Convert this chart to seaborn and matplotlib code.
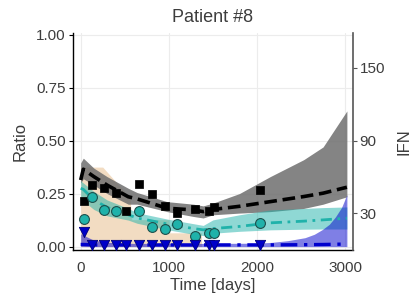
import numpy as np
import pandas as pd
import matplotlib
matplotlib.use("Agg")
import matplotlib.pyplot as plt
import seaborn as sns

# ==================================================
# DATA
# ==================================================

obs_days = [41, 132, 261, 401, 518, 662, 813, 957, 1096, 1301, 1453, 1516, 2035]
ratio_black = [0.216, 0.291, 0.278, 0.253, 0.170, 0.296, 0.250, 0.193, 0.158,
               0.179, 0.168, 0.186, 0.269]
teal_days = [41, 132, 261, 401, 662, 813, 957, 1096, 1301, 1453, 1516, 2035]
ratio_teal = [0.129, 0.234, 0.173, 0.168, 0.168, 0.092, 0.082, 0.108, 0.050,
              0.063, 0.065, 0.110]
ratio_blue = [0.071, 0.008, 0.008, 0.008, 0.008, 0.008, 0.008, 0.008, 0.008,
              0.008, 0.008, 0.008, 0.008]

# model curves
fit_days = [0, 30, 150, 300, 540, 640, 980, 1280, 1390, 1500, 1800, 2150, 2530, 2750, 3020]
fit_black = [0.314, 0.365, 0.33, 0.29, 0.235, 0.225, 0.181, 0.173, 0.165, 0.175,
             0.19, 0.212, 0.236, 0.252, 0.28]
black_lo = [0.30, 0.32, 0.29, 0.25, 0.20, 0.20, 0.165, 0.142, 0.135, 0.15,
            0.158, 0.165, 0.18, 0.20, 0.235]
black_hi = [0.395, 0.417, 0.37, 0.33, 0.275, 0.255, 0.212, 0.20, 0.192, 0.205,
            0.25, 0.33, 0.41, 0.47, 0.64]
fit_teal = [0.275, 0.27, 0.22, 0.185, 0.15, 0.135, 0.107, 0.085, 0.079, 0.085,
            0.095, 0.112, 0.12, 0.126, 0.134]
teal_lo = [0.22, 0.215, 0.175, 0.145, 0.125, 0.11, 0.08, 0.058, 0.052, 0.063,
           0.072, 0.079, 0.082, 0.083, 0.083]
teal_hi = [0.31, 0.30, 0.26, 0.22, 0.18, 0.16, 0.13, 0.108, 0.10, 0.126,
           0.15, 0.173, 0.18, 0.184, 0.187]
fit_blue = [0.01, 0.01, 0.008, 0.008, 0.008, 0.008, 0.008, 0.008, 0.008, 0.008,
            0.008, 0.008, 0.009, 0.01, 0.012]

blue_days = [0, 150, 300, 600, 1500, 2000, 2170, 2350, 2545, 2650, 2740, 2820, 2890, 2960, 3020]
blue_hi = [0.06, 0.03, 0.02, 0.015, 0.015, 0.016, 0.02, 0.028, 0.042, 0.058,
           0.08, 0.105, 0.14, 0.185, 0.245]

# empirical range (beige)
beige_days = [0, 250, 560, 580, 1000, 1010, 1370]
beige_hi = [0.375, 0.375, 0.23, 0.127, 0.127, 0.065, 0.065]

ifn_ticks = [30, 90, 150]

# ==================================================
# STYLE
# ==================================================

sns.set_theme(style="whitegrid")
plt.rcParams["font.family"] = ["Liberation Sans", "DejaVu Sans"]
txt = "#3d3d3d"
plt.rcParams.update({
    "text.color": txt, "axes.labelcolor": txt,
    "xtick.color": txt, "ytick.color": txt,
    "grid.color": "#ececec", "grid.linewidth": 0.8,
})

fig = plt.figure(figsize=(4.2, 3.0), dpi=100)
ax = fig.add_axes([0.173, 0.167, 0.667, 0.724])

# ==================================================
# BANDS
# ==================================================

ax.fill_between(beige_days, 0, beige_hi, color="#f2dcc2", lw=0, zorder=1)
ax.fill_between(fit_days, black_lo, black_hi, color="#6e6e6e", alpha=0.85, lw=0, zorder=2)
ax.fill_between(fit_days, teal_lo, teal_hi, color="#20b2aa", alpha=0.5, lw=0, zorder=3)
ax.fill_between(blue_days, 0, blue_hi, color="#0000cd", alpha=0.5, lw=0, zorder=4)

# ==================================================
# MODEL LINES
# ==================================================

fits = pd.DataFrame({"day": fit_days, "black": fit_black,
                     "teal": fit_teal, "blue": fit_blue})

sns.lineplot(data=fits, x="day", y="black", ax=ax, color="black", lw=2.6, zorder=5)
ax.lines[-1].set_linestyle((0, (3.5, 1.6)))
sns.lineplot(data=fits, x="day", y="teal", ax=ax, color="#20b2aa", lw=2.0, zorder=5)
ax.lines[-1].set_linestyle((0, (4, 2, 1, 2)))
sns.lineplot(data=fits, x="day", y="blue", ax=ax, color="#0000cd", lw=2.4, zorder=5)
ax.lines[-1].set_linestyle((0, (5, 2, 1, 2)))

# ==================================================
# OBSERVATIONS
# ==================================================

sns.scatterplot(x=obs_days, y=ratio_black, ax=ax, marker="s", s=40,
                color="black", edgecolor="black", zorder=6)
sns.scatterplot(x=teal_days, y=ratio_teal, ax=ax, marker="o", s=50,
                color="#20b2aa", edgecolor="#1d4f4c", linewidth=0.8, zorder=6)
sns.scatterplot(x=obs_days, y=ratio_blue, ax=ax, marker="v", s=55,
                color="#0000c8", edgecolor="#00007a", linewidth=0.6, zorder=6)

# ==================================================
# AXES
# ==================================================

ax.set_xlim(-91, 3087)
ax.set_ylim(-0.0156, 1.009)
ax.set_xticks([0, 1000, 2000, 3000])
ax.set_yticks([0, 0.25, 0.5, 0.75, 1.0])
ax.set_yticklabels(["0.00", "0.25", "0.50", "0.75", "1.00"])
ax.tick_params(axis="both", labelsize=11, pad=2)
ax.tick_params(axis="y", left=True, length=3, width=0.8, color="black")
ax.tick_params(axis="x", bottom=False)
ax.set_xlabel("Time [days]", fontsize=12, labelpad=2)
ax.set_ylabel("Ratio", fontsize=12, labelpad=6)
ax.set_title("Patient #8", fontsize=13, pad=8)

for side in ["top", "right"]:
    ax.spines[side].set_visible(False)
for side in ["left", "bottom"]:
    ax.spines[side].set_visible(True)
    ax.spines[side].set_color("black")
    ax.spines[side].set_linewidth(1.0)

ax2 = ax.twinx()
ax2.set_ylim(0, 179)
ax2.set_yticks(ifn_ticks)
ax2.grid(False)
ax2.tick_params(axis="y", right=True, length=3, width=0.8, color="#555555",
                labelsize=11, pad=2)
ax2.set_ylabel("IFN", fontsize=12, labelpad=8)
for side in ["top", "left", "bottom"]:
    ax2.spines[side].set_visible(False)
ax2.spines["right"].set_visible(True)
ax2.spines["right"].set_color("#555555")
ax2.spines["right"].set_linewidth(1.2)

fig.savefig("out.png", dpi=100)
